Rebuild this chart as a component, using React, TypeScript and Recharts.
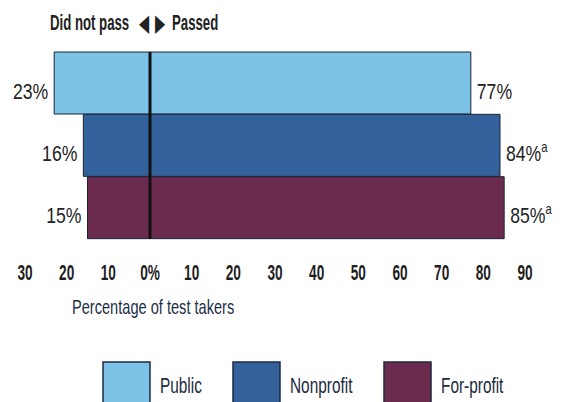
import { BarChart, Bar, XAxis, YAxis, ReferenceLine, LabelList, Cell } from "recharts";

const categories = ["Public", "Nonprofit", "For-profit"];
const didNotPass = [23, 16, 15];
const passed = [77, 84, 85];
const footnotes = ["", "a", "a"];
const colors = ["#7cc2e7", "#33619b", "#6a2b4f"];
const xTicks = [-30, -20, -10, 0, 10, 20, 30, 40, 50, 60, 70, 80, 90];

const rows = categories.map((name, i) => ({
  name,
  range: [-didNotPass[i], passed[i]],
  fail: didNotPass[i],
  pass: passed[i],
  note: footnotes[i],
}));

const FONT = "'Liberation Sans', Arial, sans-serif";

// squeezed text, the source uses a condensed face
const Narrow = ({ x, y, sx, sy = 1, anchor = "start", children, ...rest }: any) => (
  <text
    transform={`translate(${x},${y}) scale(${sx},${sy})`}
    textAnchor={anchor}
    fontFamily={FONT}
    {...rest}
  >
    {children}
  </text>
);

const TickLabel = (props: any) => {
  const { x, y, payload } = props;
  const v = payload.value;
  return (
    <Narrow x={x} y={y + 41} sx={0.62} anchor="middle" fontWeight="bold" fontSize={22} fill="#1e1e1e">
      {v === 0 ? "0%" : Math.abs(v)}
    </Narrow>
  );
};

const EndLabels = (props: any) => {
  const { x, y, width, height, index } = props;
  const r = rows[index];
  const base = y + height / 2 + 15.5;
  return (
    <g>
      <Narrow x={x - 6} y={base} sx={0.8} anchor="end" fontSize={22} fill="#222">
        {r.fail}%
      </Narrow>
      <Narrow x={x + width + 6} y={base} sx={0.8} fontSize={22} fill="#222">
        {r.pass}%
        {r.note && (
          <tspan fontSize={14} dy={-9}>
            {r.note}
          </tspan>
        )}
      </Narrow>
    </g>
  );
};

const legendX = [103, 233, 384];

export default function App() {
  return (
    <div style={{ position: "absolute", left: 0, top: 0, width: 564, height: 402, background: "#fff" }}>
      <BarChart
        width={564}
        height={402}
        layout="vertical"
        data={rows}
        margin={{ top: 52, right: 39, left: 25, bottom: 123 }}
        barCategoryGap={0}
      >
        <XAxis
          type="number"
          domain={[-30, 90]}
          ticks={xTicks}
          axisLine={false}
          tickLine={false}
          tickSize={0}
          tickMargin={0}
          height={40}
          tick={<TickLabel />}
          interval={0}
        />
        <YAxis type="category" dataKey="name" hide />
        <Bar dataKey="range" stroke="#1c2433" strokeWidth={1} isAnimationActive={false}>
          {rows.map((r, i) => (
            <Cell key={r.name} fill={colors[i]} />
          ))}
          <LabelList dataKey="pass" content={<EndLabels />} />
        </Bar>
        <ReferenceLine x={0} stroke="#111" strokeWidth={3} />
      </BarChart>
      <svg
        width={564}
        height={402}
        style={{ position: "absolute", left: 0, top: 0, pointerEvents: "none" }}
      >
        <Narrow x={50} y={30} sx={0.6} fontWeight="bold" fontSize={22} fill="#222">
          Did not pass
        </Narrow>
        <Narrow
          x={144}
          y={23}
          sx={0.6}
          sy={1.1}
          anchor="middle"
          dominantBaseline="central"
          fontFamily="'DejaVu Sans', sans-serif"
          fontSize={22}
          fill="#222"
        >
          ◀
        </Narrow>
        <Narrow
          x={160}
          y={23}
          sx={0.6}
          sy={1.1}
          anchor="middle"
          dominantBaseline="central"
          fontFamily="'DejaVu Sans', sans-serif"
          fontSize={22}
          fill="#222"
        >
          ▶
        </Narrow>
        <Narrow x={172} y={30} sx={0.6} fontWeight="bold" fontSize={22} fill="#222">
          Passed
        </Narrow>
        <Narrow x={72} y={314} sx={0.73} fontSize={20} fill="#1d2f47">
          Percentage of test takers
        </Narrow>
        {categories.map((c, i) => (
          <g key={c}>
            <rect
              x={legendX[i]}
              y={362}
              width={47}
              height={42}
              fill={colors[i]}
              stroke="#1d2a40"
              strokeWidth={1.5}
            />
            <Narrow x={legendX[i] + 57} y={393} sx={0.7} fontSize={22} fill="#1d2a40">
              {c}
            </Narrow>
          </g>
        ))}
      </svg>
    </div>
  );
}
